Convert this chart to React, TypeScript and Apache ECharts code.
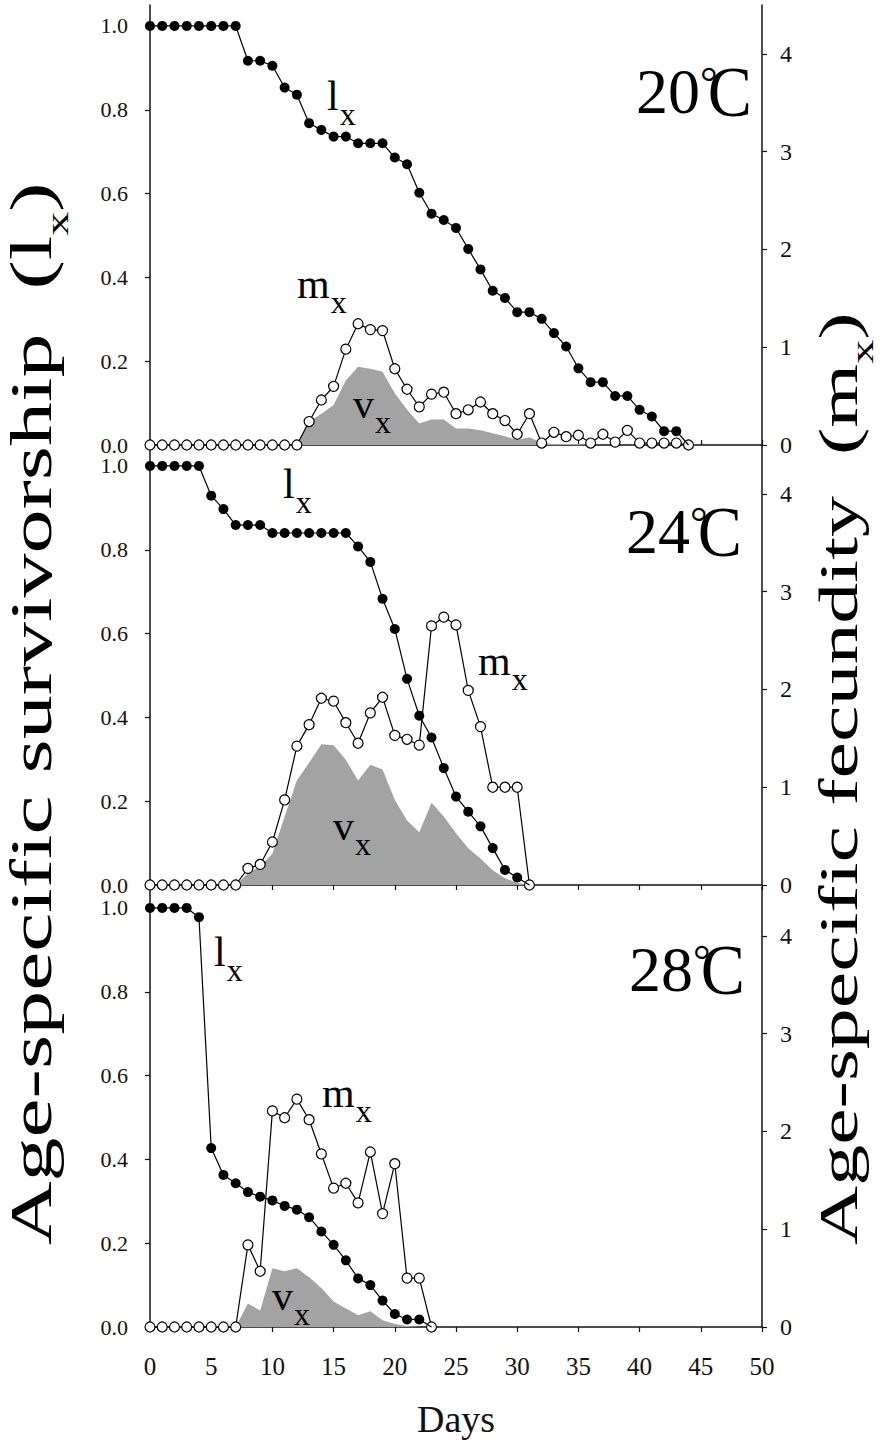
import React, { useEffect, useRef } from 'react';
import * as echarts from 'echarts';

const FONT = "'Liberation Serif', 'DejaVu Serif', serif";

// Axis ticks
const lxTicks = [0, 0.2, 0.4, 0.6, 0.8, 1.0];
const mxTicks = [0, 1, 2, 3, 4];

// 20 °C (values indexed from day 0)
const lx20 = [1, 1, 1, 1, 1, 1, 1, 1, 0.917, 0.917, 0.905, 0.853, 0.836, 0.768, 0.752, 0.736, 0.736, 0.72, 0.72, 0.72, 0.686, 0.67, 0.602, 0.552, 0.537, 0.518, 0.468, 0.419, 0.368, 0.351, 0.317, 0.317, 0.301, 0.267, 0.235, 0.183, 0.15, 0.15, 0.117, 0.117, 0.084, 0.068, 0.033, 0.033, 0];
const mx20 = [0, 0, 0, 0, 0, 0, 0, 0, 0, 0, 0, 0, 0, 0.24, 0.46, 0.6, 0.98, 1.24, 1.18, 1.17, 0.78, 0.57, 0.39, 0.52, 0.54, 0.32, 0.36, 0.44, 0.32, 0.25, 0.11, 0.32, 0.02, 0.13, 0.085, 0.1, 0.02, 0.11, 0.03, 0.15, 0.02, 0.02, 0.02, 0.02, 0];
const vx20Start = 12;
const vx20 = [0, 0.24, 0.32, 0.41, 0.66, 0.8, 0.78, 0.75, 0.53, 0.36, 0.22, 0.26, 0.26, 0.17, 0.17, 0.15, 0.12, 0.09, 0.05, 0.08, 0.02, 0.01, 0.01, 0.01, 0];

// 24 °C
const lx24 = [1, 1, 1, 1, 1, 0.929, 0.897, 0.859, 0.859, 0.859, 0.84, 0.84, 0.84, 0.84, 0.84, 0.84, 0.84, 0.808, 0.771, 0.683, 0.611, 0.492, 0.404, 0.352, 0.279, 0.211, 0.175, 0.14, 0.088, 0.036, 0.018, 0];
const mx24 = [0, 0, 0, 0, 0, 0, 0, 0, 0.17, 0.21, 0.44, 0.87, 1.42, 1.64, 1.91, 1.88, 1.66, 1.45, 1.76, 1.92, 1.53, 1.49, 1.43, 2.65, 2.74, 2.66, 1.99, 1.62, 1.0, 1.0, 1.0, 0];
const vx24Start = 7;
const vx24 = [0, 0.12, 0.19, 0.32, 0.7, 1.07, 1.25, 1.44, 1.43, 1.28, 1.07, 1.23, 1.18, 0.87, 0.66, 0.54, 0.84, 0.7, 0.53, 0.375, 0.27, 0.15, 0.07, 0.02, 0];

// 28 °C
const lx28 = [1, 1, 1, 1, 0.978, 0.427, 0.363, 0.343, 0.322, 0.311, 0.302, 0.289, 0.28, 0.262, 0.228, 0.196, 0.159, 0.116, 0.1, 0.063, 0.031, 0.018, 0.018, 0];
const mx28 = [0, 0, 0, 0, 0, 0, 0, 0, 0.84, 0.57, 2.21, 2.14, 2.33, 2.12, 1.77, 1.42, 1.47, 1.27, 1.79, 1.16, 1.67, 0.5, 0.5, 0];
const vx28Start = 7;
const vx28 = [0, 0.24, 0.17, 0.6, 0.57, 0.6, 0.51, 0.4, 0.26, 0.19, 0.12, 0.16, 0.07, 0.03, 0.01, 0];

const tempDigits = ['20', '24', '28'];

const panels = [
  { lx: lx20, mx: mx20, vx: vx20, vxStart: vx20Start },
  { lx: lx24, mx: mx24, vx: vx24, vxStart: vx24Start },
  { lx: lx28, mx: mx28, vx: vx28, vxStart: vx28Start },
];

// layout (annotation positions)
const gridTops = [5, 445, 887];
const gridH = 440;
const tempPos = [
  { right: 752, cy: 91 },
  { right: 742, cy: 531 },
  { right: 745, cy: 969 },
];
const subLabels = [
  { m: 'l', x: 327, b: 110 }, { m: 'm', x: 297, b: 298 }, { m: 'v', x: 353, b: 418 },
  { m: 'l', x: 283, b: 498 }, { m: 'm', x: 478, b: 675 }, { m: 'v', x: 333, b: 840 },
  { m: 'l', x: 214, b: 966 }, { m: 'm', x: 322, b: 1107 }, { m: 'v', x: 272, b: 1310 },
];
const charW: Record<string, number> = { l: 0.278, m: 0.778, v: 0.5 };

function txt(text: string, x: number, y: number, fontSize: number, align: string, extra: any = {}) {
  return {
    type: 'text',
    x,
    y,
    z: 10,
    ...extra,
    style: {
      text, x: 0, y: 0, fill: '#000', fontSize, fontFamily: FONT,
      align, verticalAlign: 'middle', textAlign: align, textVerticalAlign: 'middle',
    },
  };
}

function buildOption() {
  const grid: any[] = [];
  const xAxis: any[] = [];
  const yAxis: any[] = [];
  const series: any[] = [];
  const axisLineStyle = { color: '#111', width: 1.5 };
  const labelStyle = { color: '#111', fontSize: 22, fontFamily: FONT };

  panels.forEach((p, i) => {
    grid.push({ left: 150, right: 118, top: gridTops[i], height: gridH });
    xAxis.push({
      gridIndex: i,
      type: 'value',
      min: 0,
      max: 50,
      interval: 5,
      axisLine: { show: true, lineStyle: axisLineStyle },
      axisTick: { show: true, inside: i === 0, length: 5, lineStyle: { color: '#111', width: 1.2 } },
      axisLabel: { show: i === 2, margin: 27, ...labelStyle, fontSize: 25 },
      splitLine: { show: false },
      name: i === 2 ? 'Days' : '',
      nameLocation: 'middle',
      nameGap: 73,
      nameTextStyle: { fontSize: 38, fontFamily: FONT, color: '#111' },
    });
    yAxis.push({
      gridIndex: i,
      type: 'value',
      position: 'left',
      min: 0,
      max: 1.05,
      axisLine: { show: true, onZero: false, lineStyle: axisLineStyle },
      axisTick: { show: true, length: 5, customValues: lxTicks, lineStyle: { color: '#111', width: 1.2 } },
      axisLabel: { customValues: lxTicks, margin: 22, lineHeight: 18, formatter: (v: number) => v.toFixed(1), ...labelStyle },
      splitLine: { show: false },
    });
    yAxis.push({
      gridIndex: i,
      type: 'value',
      position: 'right',
      min: 0,
      max: 4.5,
      axisLine: { show: true, onZero: false, lineStyle: axisLineStyle },
      axisTick: { show: true, length: 5, customValues: mxTicks, lineStyle: { color: '#111', width: 1.2 } },
      axisLabel: { customValues: mxTicks, margin: 18, lineHeight: 18, formatter: (v: number) => String(v), ...labelStyle, fontSize: 24 },
      splitLine: { show: false },
    });

    series.push({
      type: 'line',
      xAxisIndex: i,
      yAxisIndex: 2 * i + 1,
      data: p.vx.map((v, k) => [p.vxStart + k, v]),
      symbol: 'none',
      lineStyle: { width: 0 },
      areaStyle: { color: '#a3a3a3', opacity: 1 },
      clip: false,
      z: 1,
    });
    series.push({
      type: 'line',
      xAxisIndex: i,
      yAxisIndex: 2 * i + 1,
      data: p.mx.map((v, k) => [k, v]),
      symbol: 'circle',
      symbolSize: 10,
      itemStyle: { color: '#fff', borderColor: '#000', borderWidth: 1.2 },
      lineStyle: { color: '#000', width: 1.2 },
      clip: false,
      z: 2,
    });
    const last = p.lx.length - 1;
    series.push({
      type: 'line',
      xAxisIndex: i,
      yAxisIndex: 2 * i,
      data: p.lx.map((v, k) => (k === last ? { value: [k, v], symbol: 'none' } : [k, v])),
      symbol: 'circle',
      symbolSize: 10,
      itemStyle: { color: '#000' },
      lineStyle: { color: '#000', width: 1.2 },
      clip: false,
      z: 3,
    });
  });

  const graphic: any[] = [];
  tempDigits.forEach((t, i) => {
    const { right: R, cy } = tempPos[i];
    graphic.push(txt(t, R - 52, cy, 64, 'right'));
    graphic.push(txt('°', R - 52, cy - 9, 44, 'left'));
    graphic.push(txt('C', R, cy + 1, 72, 'right', { scaleX: 0.92 }));
  });
  subLabels.forEach((s) => {
    graphic.push(txt(s.m, s.x, s.b - 0.34 * 42, 42, 'left'));
    graphic.push(txt('x', s.x + charW[s.m] * 42 + 1, s.b + 15 - 0.34 * 32, 32, 'left'));
  });
  const title = (text: string, main: string, x: number, fs: number) => ({
    type: 'text',
    x,
    y: 1245,
    rotation: Math.PI / 2,
    scaleY: 0.67,
    z: 10,
    style: {
      text: `{a|${text}}{a|${main}}{s|x}{a|)}`,
      x: 0, y: 0,
      fill: '#000',
      align: 'left', verticalAlign: 'middle', textAlign: 'left', textVerticalAlign: 'middle',
      rich: {
        a: { fontSize: fs, lineHeight: fs, fontFamily: FONT, fill: '#000', color: '#000', padding: [0, 0, 19, 0], verticalAlign: 'bottom' },
        s: { fontSize: 48, lineHeight: 48, fontFamily: FONT, fill: '#000', color: '#000', verticalAlign: 'bottom' },
      },
    },
  });
  graphic.push(title('Age-specific survivorship  (', 'l', 44, 88));
  graphic.push(title('Age-specific fecundity  (', 'm', 851, 82));

  return { animation: false, backgroundColor: '#fff', grid, xAxis, yAxis, series, graphic };
}

export default function App() {
  const ref = useRef<HTMLDivElement>(null);
  useEffect(() => {
    if (!ref.current) return;
    const chart = echarts.init(ref.current, null, { renderer: 'svg' });
    chart.setOption(buildOption() as any);
    return () => chart.dispose();
  }, []);
  return (
    <div
      ref={ref}
      style={{ position: 'fixed', left: 0, top: 0, width: 880, height: 1442, background: '#fff' }}
    />
  );
}
